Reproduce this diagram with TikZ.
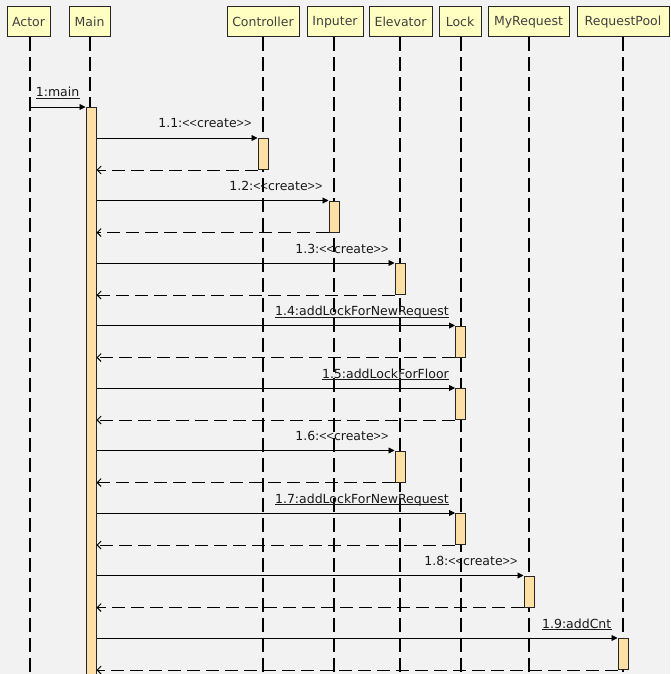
\documentclass[tikz,border=0pt]{standalone}
\usepackage{fontspec}
\setmainfont{DejaVu Sans}
\newfontfamily\narrowfont{Liberation Sans}
\usepackage{xcolor}
\usetikzlibrary{arrows.meta,positioning,calc}

\definecolor{canvas}{HTML}{F2F2F2}
\definecolor{objyellow}{HTML}{FFFFC2}
\definecolor{actorange}{HTML}{FFE0A4}
% keep << and >> apart (no guillemets), narrower brackets
\newcommand{\crt}{{\narrowfont<\kern0pt<}create{\narrowfont>\kern0pt>}}

\begin{document}
\begin{tikzpicture}[x=1pt, y=-1pt,
        font=\fontsize{12.5}{14}\selectfont,
        obj/.style={draw=black!85, fill=objyellow, line width=1pt, minimum height=30pt,
                    inner sep=0pt, text=black!75},
        life/.style={line width=1.25pt, dash pattern=on 14pt off 6pt},
        act/.style={draw=black!85, fill=actorange, line width=1pt, minimum width=10pt,
                    inner sep=0pt},
        call/.style={line width=0.9pt, -{Triangle[length=6pt, width=6pt]}},
        reply/.style={line width=0.9pt, dash pattern=on 13pt off 6pt,
                      -{Straight Barb[length=4pt, width=8pt]}},
        msg/.style={anchor=base east, inner sep=0pt, text=black!90},
        umsg/.style={msg, append after command={
                     (\tikzlastnode.base west) ++(0,1.8) edge[line width=0.8pt, black!90]
                     ($(\tikzlastnode.base east)+(0,-1.8pt)$)}}
    ]
        \fill[canvas] (0,0) rectangle (670,674);
        \useasboundingbox (0,0) rectangle (670,674);

        % objects
        \node[obj, minimum width=43pt] (actor) at (28.5,22) {Actor};
        \node[obj, minimum width=41pt] (main) at (89.5,22) {Main};
        \node[obj, minimum width=72pt] (ctrl) at (263,22) {Controller};
        \node[obj, minimum width=56pt] (inp) at (335,22) {Inputer};
        \node[obj, minimum width=63pt] (elev) at (400.5,22) {Elevator};
        \node[obj, minimum width=42pt] (lock) at (460,22) {Lock};
        \node[obj, minimum width=81pt] (myreq) at (528.5,22) {MyRequest};
        \node[obj, minimum width=92pt] (pool) at (623,22) {RequestPool};

        % lifelines
        \coordinate (actorEnd) at (30,676);
        \draw[life] (30,37.5) -- (actorEnd);
        \foreach \o/\x in {main/90, ctrl/263, inp/334, elev/400, lock/461, myreq/529, pool/623}
            \draw[life] (\x,37.5) -- (\x,676);

        % activations
        \node[act, anchor=north, minimum height=580pt] (aMain) at (91,107) {};
        \node[act, anchor=north, minimum height=31pt] (a1) at (263,138) {};
        \node[act, anchor=north, minimum height=31pt] (a2) at (334,200.5) {};
        \node[act, anchor=north, minimum height=31pt] (a3) at (400,263) {};
        \node[act, anchor=north, minimum height=31pt] (a4) at (460.5,325.5) {};
        \node[act, anchor=north, minimum height=31pt] (a5) at (460.5,388) {};
        \node[act, anchor=north, minimum height=31pt] (a6) at (400,450.5) {};
        \node[act, anchor=north, minimum height=31pt] (a7) at (460.5,513) {};
        \node[act, anchor=north, minimum height=31pt] (a8) at (529,575.5) {};
        \node[act, anchor=north, minimum height=31pt] (a9) at (623,638) {};

        % 1:main
        \coordinate (mainStart) at (30,107);
        \draw[call] (mainStart) -- (aMain.north west);
        \node[umsg] (m0) at ($(aMain.north west)+(-6,-10)$) {1:main};

        % messages from Main
        \foreach \a/\t/\u in {a1/{1.1:\crt}/msg, a2/{1.2:\crt}/msg,
                              a3/{1.3:\crt}/msg, a4/{1.4:addLockForNewRequest}/umsg,
                              a5/{1.5:addLockForFloor}/umsg, a6/{1.6:\crt}/msg,
                              a7/{1.7:addLockForNewRequest}/umsg, a8/{1.8:\crt}/msg,
                              a9/{1.9:addCnt}/umsg} {
            \draw[call] (\a.north west -| aMain.east) -- (\a.north west);
            \draw[reply] (\a.south west) -- (\a.south west -| aMain.east);
            \node[\u] (l\a) at ($(\a.north west)+(-6,-10)$) {\t};
        }
\end{tikzpicture}
\end{document}
